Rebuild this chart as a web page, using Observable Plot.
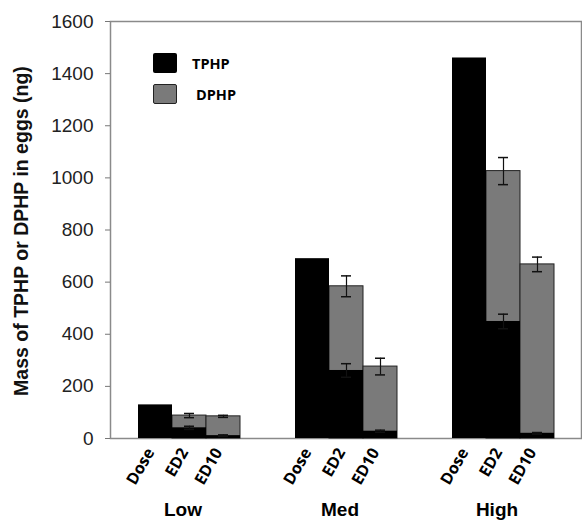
<!DOCTYPE html>
<html>
<head>
<meta charset="utf-8">
<script src="https://cdn.jsdelivr.net/npm/d3@7"></script>
<script src="https://cdn.jsdelivr.net/npm/@observablehq/plot@0.6"></script>
<style>
  body { margin: 0; background: white; }
  #wrap { position: relative; width: 582px; height: 521px; }
  #legend { position: absolute; left: 153px; top: 53px; font-family: "Open Sans", "Liberation Sans", sans-serif; font-weight: bold; font-size: 14.5px; color: #000; }
  .row { display: flex; align-items: center; height: 20px; margin-bottom: 11px; }
  .sw { width: 24px; height: 20px; box-sizing: border-box; border-radius: 2px; }
</style>
</head>
<body>
<div id="wrap">
  <div id="legend"></div>
</div>
<script>
const groups = ["Low", "Med", "High"];
const stages = ["Dose", "ED2", "ED10"];
// values per group x stage (Low: Dose, ED2, ED10; Med: ...; High: ...)
const tphp    = [129, 41, 11,   690, 261, 28,   1460, 449, 20];
const tphpErr = [null, 6, 3,    null, 26, 4,    null, 28, 3];
const dphp    = [null, 88, 85,  null, 584, 276, null, 1026, 668];
const dphpErr = [null, 8, 4,    null, 40, 32,   null, 52, 28];
const yTicks = [0, 200, 400, 600, 800, 1000, 1200, 1400, 1600];
const yLabel = "Mass of TPHP or DPHP in eggs (ng)";
const seriesNames = ["TPHP", "DPHP"];
const seriesColors = ["#000000", "#7a7a7a"];

const rows = [];
groups.forEach((g, gi) => stages.forEach((s, si) => {
  const i = gi * 3 + si;
  rows.push({group: g, stage: s, tphp: tphp[i], tphpErr: tphpErr[i], dphp: dphp[i], dphpErr: dphpErr[i]});
}));
const errs = [];
rows.forEach(r => {
  if (r.dphpErr != null) errs.push({group: r.group, stage: r.stage, lo: r.dphp - r.dphpErr, hi: r.dphp + r.dphpErr});
  if (r.tphpErr != null) errs.push({group: r.group, stage: r.stage, lo: r.tphp - r.tphpErr, hi: r.tphp + r.tphpErr});
});

const chart = Plot.plot({
  width: 582,
  height: 521,
  marginLeft: 110,
  marginRight: 1,
  marginTop: 21,
  marginBottom: 83,
  style: {fontFamily: "'Liberation Sans', Arial, sans-serif", background: "white", color: "#222"},
  fx: {domain: groups, padding: 0, label: null},
  x: {domain: stages, paddingInner: 0, paddingOuter: 0.75, label: null},
  y: {domain: [0, 1600], label: null},
  marks: [
    Plot.frame({facet: "super", stroke: "#8a8a8a", strokeWidth: 1.5}),
    Plot.barY(rows.filter(d => d.dphp != null), {fx: "group", x: "stage", y: "dphp", fill: seriesColors[1], stroke: "#222", strokeWidth: 1, inset: 0}),
    Plot.barY(rows, {fx: "group", x: "stage", y: "tphp", fill: seriesColors[0], inset: 0}),
    Plot.ruleX(errs, {fx: "group", x: "stage", y1: "lo", y2: "hi", stroke: "#111", strokeWidth: 1.2}),
    Plot.tickY(errs, {fx: "group", x: "stage", y: "lo", stroke: "#111", strokeWidth: 1.5, insetLeft: 12, insetRight: 12}),
    Plot.tickY(errs, {fx: "group", x: "stage", y: "hi", stroke: "#111", strokeWidth: 1.5, insetLeft: 12, insetRight: 12}),
    Plot.axisY({ticks: yTicks, tickFormat: d => String(d), tickSize: 5, tickPadding: 12, fontSize: 19, label: null, stroke: "#777"}),
    Plot.text([yLabel], {facet: "super", frameAnchor: "left", rotate: -90, dx: -89, dy: 1, textAnchor: "middle", lineAnchor: "middle", fontSize: 19.5, fontWeight: "bold", fill: "#111"}),
    Plot.axisX({tickRotate: -60, tickSize: 0, tickPadding: 11, dx: -5, fontSize: 16, fontWeight: "bold", fontFamily: "'Open Sans', sans-serif", label: null, color: "#000"}),
    Plot.axisFx({anchor: "bottom", tickSize: 0, tickPadding: 64, fontSize: 19, fontWeight: "bold", label: null, dx: -6, color: "#000"})
  ]
});
document.getElementById("wrap").prepend(chart);

const legend = document.getElementById("legend");
seriesNames.forEach((n, i) => {
  const row = document.createElement("div");
  row.className = "row";
  const sw = document.createElement("div");
  sw.className = "sw";
  sw.style.background = seriesColors[i];
  if (i === 1) sw.style.border = "1.5px solid #222";
  const t = document.createElement("span");
  t.textContent = n;
  t.style.marginLeft = (i === 0 ? 15 : 19) + "px";
  row.appendChild(sw); row.appendChild(t);
  legend.appendChild(row);
});
</script>
</body>
</html>
